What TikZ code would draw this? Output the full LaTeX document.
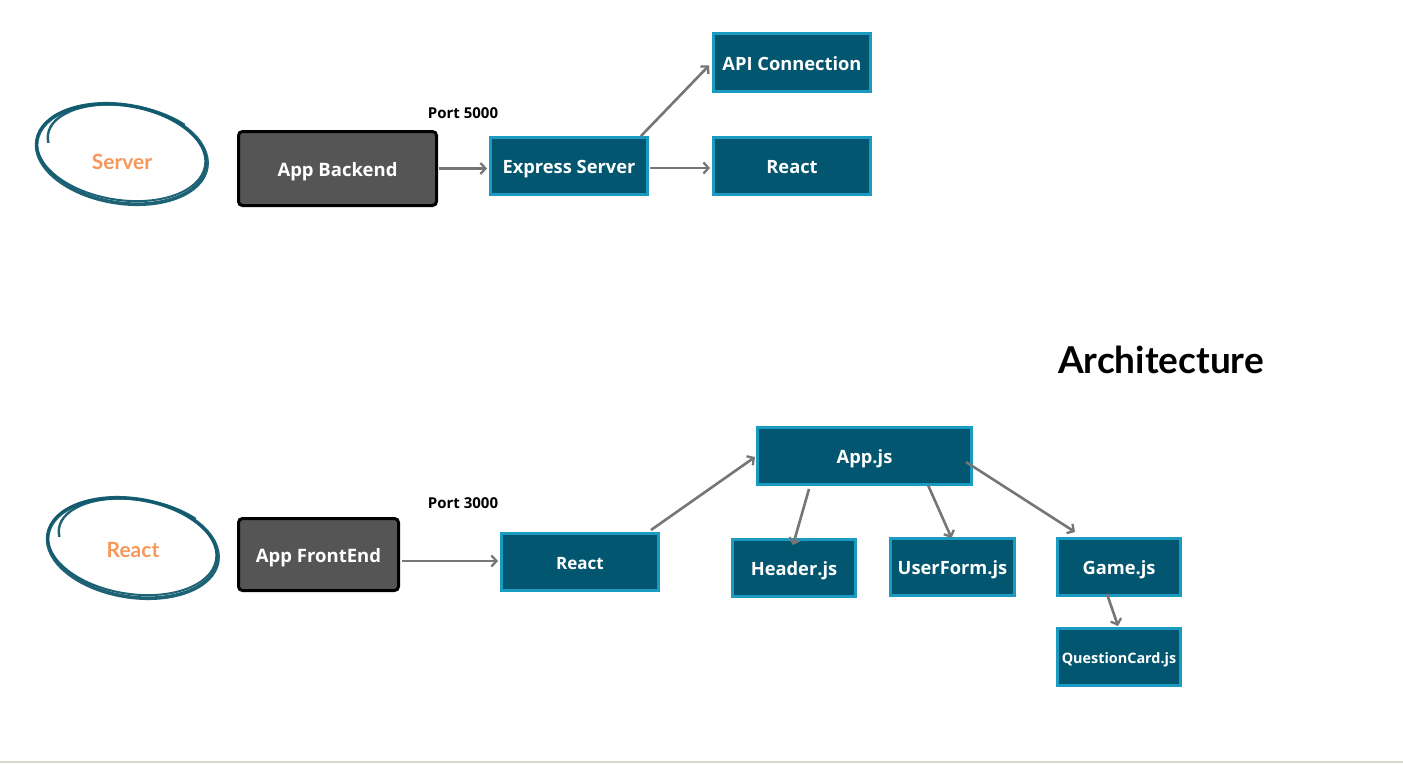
\documentclass[tikz,border=0pt]{standalone}
\usepackage{fontspec}
\setmainfont{Open Sans}
\newfontfamily\lato{Lato}
\usetikzlibrary{arrows.meta,calc}

\definecolor{boxfill}{HTML}{03566F}
\definecolor{boxedge}{HTML}{1B9AC2}
\definecolor{hostfill}{HTML}{555555}
\definecolor{arrowgray}{HTML}{767676}
\definecolor{inkteal}{HTML}{125A6E}
\definecolor{labelorange}{HTML}{F7985A}
\definecolor{footline}{HTML}{DCD9CC}

\tikzset{
  x=1pt, y=-1pt,
  modbox/.style={draw=boxedge, fill=boxfill, line width=3pt, inner sep=0pt,
    text height=15pt, text depth=0pt,
    text=white, font=\bfseries\fontsize{18.3}{20}\selectfont},
  hostbox/.style={draw=black, fill=hostfill, line width=3pt, rounded corners=4pt,
    inner sep=0pt, text height=15pt, text depth=0pt,
    text=white, font=\bfseries\fontsize{18.5}{20}\selectfont},
  portlabel/.style={font=\bfseries\fontsize{15}{17}\selectfont},
  flow/.style={draw=arrowgray, line width=2.6pt,
    -{Straight Barb[length=5pt,width=11pt,line width=2.3pt]}},
  sketch/.style={draw=inkteal, line width=3.6pt, opacity=0.95},
  ringlabel/.style={text=labelorange, font=\lato\bfseries\fontsize{21}{23}\selectfont},
}

\begin{document}
\begin{tikzpicture}
\useasboundingbox (0,0) rectangle (1403,764);
\fill[white] (0,0) rectangle (1403,764);
\draw[footline, line width=1.5pt] (0,762) -- (1403,762);

% ---------- server side ----------
\begin{scope}[rotate around={-9:(122,153)}]
  \draw[sketch] (122,154) ellipse (86 and 49);
  \draw[sketch, line width=2pt] (121,152.5) ellipse (85 and 47.5);
  \draw[sketch, line width=2.4pt] ([shift={(168:80 and 41)}]126,146)
      arc[start angle=168, end angle=312, x radius=80, y radius=41];
\end{scope}
\node[ringlabel] (srvlabel) at (122,162) {Server};

\node[hostbox, minimum width=198pt, minimum height=74pt] (backend) at (337.5,168.5) {App Backend};
\node[portlabel] (port5000) at (463,113) {Port 5000};
\node[modbox, minimum width=157pt, minimum height=57pt] (express) at (569,166) {Express Server};
\node[modbox, minimum width=157pt, minimum height=58pt] (api) at (792,62.5) {API Connection};
\node[modbox, minimum width=157pt, minimum height=57pt] (reacttop) at (792,166) {React};

\draw[flow] ($(backend.east)+(1,0)$) -- ($(express.west)+(-2,2.5)$);
\draw[flow] ($(express.east)+(1,2)$) -- ($(reacttop.west)+(-2,2)$);
\draw[flow] ($(express.north east)+(-8,0)$) -- ($(api.west)+(-3,3)$);

% ---------- client side ----------
\begin{scope}[rotate around={-9:(133,547)}]
  \draw[sketch] (133,548) ellipse (86 and 49);
  \draw[sketch, line width=2pt] (132,546.5) ellipse (85 and 47.5);
  \draw[sketch, line width=2.4pt] ([shift={(168:80 and 41)}]137,540)
      arc[start angle=168, end angle=312, x radius=80, y radius=41];
\end{scope}
\node[ringlabel] (reactlabel) at (133,550) {React};

\node[hostbox, minimum width=160pt, minimum height=72pt] (frontend) at (318.5,554.5) {App FrontEnd};
\node[portlabel] (port3000) at (463,503) {Port 3000};
\node[modbox, minimum width=157pt, minimum height=57pt, text height=14pt,
  font=\bfseries\fontsize{17}{19}\selectfont] (reactlow) at (580,562) {React};

\node[modbox, minimum width=214pt, minimum height=57pt] (appjs) at (864.5,456) {App.js};
\node[modbox, minimum width=123pt, minimum height=57pt] (header) at (794,568) {Header.js};
\node[modbox, minimum width=124pt, minimum height=57pt] (userform) at (952.5,567) {UserForm.js};
\node[modbox, minimum width=123pt, minimum height=57pt] (game) at (1119,567) {Game.js};
\node[modbox, minimum width=123pt, minimum height=57pt, text height=12pt,
  font=\bfseries\fontsize{14.4}{16}\selectfont] (qcard) at (1119,657) {QuestionCard.js};

\draw[flow] ($(frontend.east)+(2,6.5)$) -- ($(reactlow.west)+(-2,-1)$);
\draw[flow] ($(reactlow.north east)+(-9,-2)$) -- ($(appjs.west)+(-1,1)$);
\draw[flow] ($(appjs.south west)+(53,3)$) -- ($(header.north)+(-1,7)$);
\draw[flow] ($(appjs.south west)+(172,-1)$) -- ($(userform.north)+(-1,1)$);
\draw[flow] ($(appjs.east)+(-7,6)$) -- ($(game.north west)+(19,-5)$);
\draw[flow] ($(game.south)+(-12,-3)$) -- ($(qcard.north)+(-1,-1)$);

\node[font=\lato\bfseries\fontsize{37}{42}\selectfont] (title) at (1161,360) {Architecture};
\end{tikzpicture}
\end{document}
